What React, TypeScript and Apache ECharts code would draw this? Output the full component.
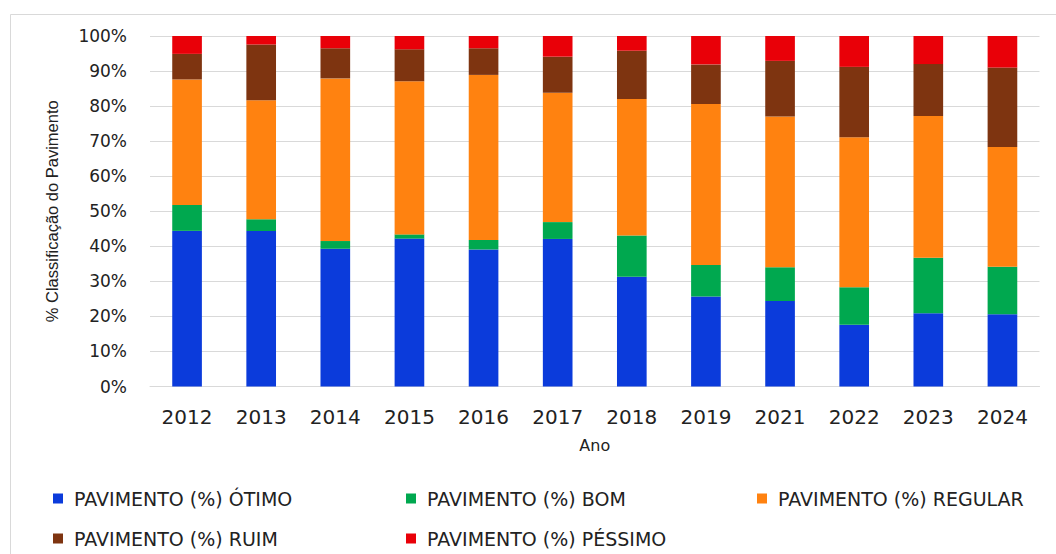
import React, { useEffect, useRef } from "react";
import * as echarts from "echarts";

const years = ["2012", "2013", "2014", "2015", "2016", "2017", "2018", "2019", "2021", "2022", "2023", "2024"];
const otimo = [44.4, 44.4, 39.3, 42.2, 39.1, 42.1, 31.3, 25.7, 24.4, 17.6, 20.9, 20.6];
const bom = [7.4, 3.3, 2.2, 1.2, 2.7, 4.8, 11.8, 9.0, 9.6, 10.7, 15.8, 13.6];
const regular = [35.8, 34.0, 46.4, 43.7, 47.1, 36.9, 38.9, 45.9, 43.0, 42.8, 40.5, 34.1];
const ruim = [7.3, 15.9, 8.6, 9.1, 7.6, 10.3, 13.8, 11.3, 15.9, 20.1, 14.8, 22.7];
const pessimo = [5.1, 2.4, 3.5, 3.8, 3.5, 5.9, 4.2, 8.1, 7.1, 8.8, 8.0, 9.0];

const seriesNames = [
  "PAVIMENTO (%) ÓTIMO",
  "PAVIMENTO (%) BOM",
  "PAVIMENTO (%) REGULAR",
  "PAVIMENTO (%) RUIM",
  "PAVIMENTO (%) PÉSSIMO",
];
const seriesData = [otimo, bom, regular, ruim, pessimo];
const colors = ["#0B3BDB", "#00A84F", "#FF8210", "#7E3410", "#E90008"];

const legendPos = [
  { left: 53, top: 489 },
  { left: 406, top: 489 },
  { left: 757, top: 489 },
  { left: 53, top: 529 },
  { left: 406, top: 529 },
];

export default function App() {
  const ref = useRef<HTMLDivElement>(null);
  useEffect(() => {
    if (!ref.current) return;
    const chart = echarts.init(ref.current, null, { renderer: "svg" });
    chart.setOption({
      animation: false,
      backgroundColor: "#ffffff",
      color: colors,
      graphic: [
        {
          type: "rect",
          shape: { x: 10.5, y: 14.5, width: 1100, height: 600 },
          style: { fill: "none", stroke: "#d9d9d9", lineWidth: 1 },
          silent: true,
          z: -1,
        },
      ],
      legend: seriesNames.map((n, i) => ({
        data: [n],
        left: legendPos[i].left,
        top: legendPos[i].top,
        orient: "horizontal",
        padding: 0,
        itemWidth: 10,
        itemHeight: 10,
        icon: "rect",
        selectedMode: false,
        textStyle: {
          fontFamily: "DejaVu Sans",
          fontSize: 19,
          color: "#222",
          padding: [0, 0, 0, 6],
        },
      })),
      grid: { left: 150, right: 16.5, top: 36, bottom: 167.5 },
      xAxis: {
        type: "category",
        data: years,
        name: "Ano",
        nameLocation: "middle",
        nameGap: 51,
        nameTextStyle: { fontFamily: "DejaVu Sans", fontSize: 16, color: "#222" },
        axisLine: { show: true, lineStyle: { color: "#d9d9d9" } },
        axisTick: { show: false },
        axisLabel: { fontFamily: "DejaVu Sans", fontSize: 20, color: "#222", margin: 20 },
      },
      yAxis: {
        type: "value",
        min: 0,
        max: 100,
        interval: 10,
        name: "% Classificação do Pavimento",
        nameLocation: "middle",
        nameGap: 90,
        nameTextStyle: { fontFamily: "Liberation Sans", fontSize: 16.5, color: "#222" },
        axisLine: { show: false },
        axisTick: { show: false },
        axisLabel: {
          formatter: "{value}%",
          fontFamily: "DejaVu Sans",
          fontSize: 17,
          color: "#222",
          margin: 23,
        },
        splitLine: { lineStyle: { color: "#d9d9d9" } },
      },
      series: seriesNames.map((n, i) => ({
        name: n,
        type: "bar",
        stack: "total",
        barWidth: "40%",
        data: seriesData[i],
        itemStyle: { color: colors[i] },
      })),
    });
    return () => chart.dispose();
  }, []);
  return (
    <div
      ref={ref}
      style={{ position: "absolute", left: 0, top: 0, width: 1056, height: 554 }}
    />
  );
}
